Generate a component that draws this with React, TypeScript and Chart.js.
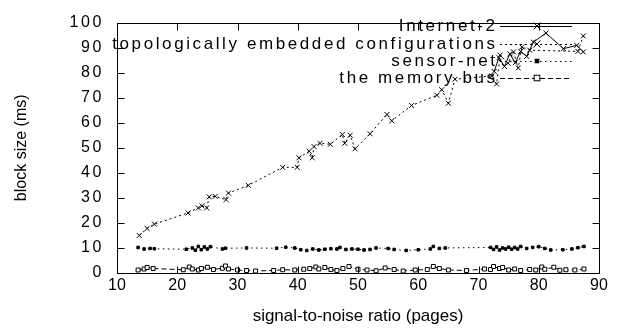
import React, { useEffect, useRef } from "react";
import { Chart, registerables } from "chart.js";

Chart.register(...registerables);

const X_TICKS = [10, 20, 30, 40, 50, 60, 70, 80, 90];
const Y_TICKS = [0, 10, 20, 30, 40, 50, 60, 70, 80, 90, 100];

const SERIES_NAMES = [
  "Internet-2",
  "topologically embedded configurations",
  "sensor-net",
  "the memory bus",
];

const INTERNET2_X = [72.6, 73.4, 74.3, 75.2, 76.1, 77.0, 78.0, 79.1, 81.2, 84.1, 86.3, 87.4];
const INTERNET2_Y = [80.5, 86.0, 82.5, 87.5, 84.0, 88.5, 86.5, 92.2, 95.8, 89.6, 90.9, 88.3];

const TOPO_X = [13.7, 15.0, 16.2, 21.8, 23.5, 24.1, 24.9, 25.3, 26.3, 28.1, 28.5, 31.8, 37.5, 39.9, 40.2, 41.9, 42.4, 42.7, 43.7, 45.4, 47.4, 47.8, 48.7, 49.5, 52.0, 54.8, 55.6, 58.9, 63.1, 63.9, 65.0, 66.1, 72.2, 73.0, 73.6, 74.9, 75.8, 76.6, 77.2, 78.5, 86.5, 87.4];
const TOPO_Y = [15.0, 17.8, 19.5, 24.0, 26.0, 26.8, 26.0, 30.4, 30.6, 29.3, 31.9, 35.0, 42.2, 42.2, 46.0, 48.6, 46.0, 50.5, 51.8, 51.4, 55.3, 51.8, 55.0, 49.6, 55.6, 63.3, 60.8, 66.9, 71.0, 73.2, 67.8, 77.4, 78.7, 75.5, 87.0, 83.8, 88.3, 81.9, 90.3, 89.0, 88.5, 94.7];

const SENSOR_X = [13.5, 14.5, 15.5, 16.2, 21.5, 22.5, 23.0, 23.5, 24.0, 24.5, 25.0, 25.5, 27.5, 28.0, 31.5, 36.5, 38.0, 39.5, 40.5, 41.5, 42.5, 43.5, 44.5, 45.5, 46.5, 47.0, 48.0, 49.0, 50.0, 51.0, 52.0, 53.0, 55.0, 56.0, 58.0, 60.0, 62.0, 62.5, 63.5, 64.5, 72.0, 72.5, 73.0, 73.5, 74.0, 74.5, 75.0, 75.5, 76.0, 76.5, 77.0, 78.0, 79.0, 80.0, 81.0, 82.0, 84.0, 85.5, 86.5, 87.5];
const SENSOR_Y = [10.2, 9.6, 9.8, 9.7, 9.5, 10.0, 9.1, 10.6, 9.3, 10.4, 9.6, 10.5, 9.6, 9.9, 10.0, 9.9, 10.3, 10.0, 9.3, 9.0, 9.6, 9.2, 9.5, 9.7, 9.6, 10.2, 9.4, 9.6, 9.5, 9.2, 9.4, 10.0, 9.8, 9.4, 9.0, 9.3, 9.6, 10.6, 9.8, 10.0, 10.2, 9.4, 10.4, 9.2, 10.0, 9.6, 10.3, 9.5, 10.2, 9.6, 10.6, 9.8, 10.2, 10.5, 9.8, 9.2, 9.3, 9.6, 10.1, 10.6];

const MEMBUS_X = [13.5, 14.5, 15.0, 16.0, 21.0, 22.0, 22.5, 23.5, 24.0, 25.0, 26.0, 27.5, 28.0, 28.5, 30.0, 31.5, 33.0, 36.0, 37.5, 39.5, 41.0, 42.0, 43.0, 43.5, 44.5, 45.5, 46.5, 47.5, 48.5, 50.0, 51.5, 53.0, 54.5, 56.0, 57.5, 59.5, 61.5, 62.5, 63.5, 65.0, 68.0, 71.0, 72.0, 72.5, 73.5, 74.0, 75.0, 76.0, 77.0, 78.5, 79.5, 80.5, 81.0, 82.5, 83.5, 84.5, 86.0, 87.5];
const MEMBUS_Y = [1.2, 1.6, 2.2, 1.8, 1.3, 2.4, 1.6, 1.2, 1.8, 2.3, 1.4, 1.9, 2.8, 1.6, 1.2, 1.0, 0.8, 1.0, 1.3, 1.2, 1.5, 1.8, 2.4, 1.6, 2.2, 1.4, 1.0, 1.8, 2.6, 1.5, 1.2, 0.9, 2.0, 1.4, 0.8, 1.2, 1.4, 2.6, 1.8, 1.2, 1.0, 1.6, 1.4, 2.6, 1.8, 2.2, 1.2, 1.6, 1.0, 1.4, 1.2, 2.4, 1.5, 2.3, 1.1, 1.3, 1.2, 1.6];

const FONT = "'Liberation Sans', Arial, Helvetica, sans-serif";

function pts(xs: number[], ys: number[]) {
  return xs.map((x, i) => ({ x, y: ys[i] }));
}

const STYLES = [
  { dash: [] as number[], pointStyle: "crossRot", radius: 3.5, fill: "rgba(0,0,0,0)" },
  { dash: [2, 3], pointStyle: "crossRot", radius: 3.5, fill: "rgba(0,0,0,0)" },
  { dash: [1.5, 3.5], pointStyle: "rect", radius: 1.8, fill: "#000" },
  { dash: [5, 3], pointStyle: "rect", radius: 2.8, fill: "#fff" },
];

const framePlugin = {
  id: "gnuframe",
  beforeDraw(chart: any) {
    chart.ctx.letterSpacing = "0px";
    const xs = chart.scales.x;
    const ys = chart.scales.y;
    if (xs && !xs.__wrapped) {
      const orig = xs.draw.bind(xs);
      xs.draw = (a: any) => {
        const c = chart.ctx;
        const prev = c.letterSpacing;
        c.letterSpacing = "2.6px";
        orig(a);
        c.letterSpacing = prev;
      };
      xs.__wrapped = true;
    }
    if (ys && !ys.__wrapped) {
      const origL = ys.drawLabels.bind(ys);
      ys.drawLabels = (a: any) => {
        const c = chart.ctx;
        const prev = c.letterSpacing;
        c.letterSpacing = "2.6px";
        origL(a);
        c.letterSpacing = prev;
      };
      ys.__wrapped = true;
    }
  },
  afterDraw(chart: any) {
    const { ctx, chartArea } = chart;
    const xs = chart.scales.x;
    const ys = chart.scales.y;
    const L = Math.round(chartArea.left) + 0.5;
    const R = Math.round(chartArea.right) + 0.5;
    const T = Math.round(chartArea.top) + 0.5;
    const B = Math.round(chartArea.bottom) + 0.5;
    ctx.save();
    ctx.strokeStyle = "#000";
    ctx.lineWidth = 1;
    ctx.setLineDash([]);
    ctx.strokeRect(L, T, R - L, B - T);
    const tl = 7;
    ctx.beginPath();
    X_TICKS.forEach((v) => {
      const px = Math.round(xs.getPixelForValue(v)) + 0.5;
      ctx.moveTo(px, B);
      ctx.lineTo(px, B - tl);
      ctx.moveTo(px, T);
      ctx.lineTo(px, T + tl);
    });
    Y_TICKS.forEach((v) => {
      const py = Math.round(ys.getPixelForValue(v)) + 0.5;
      ctx.moveTo(L, py);
      ctx.lineTo(L + tl, py);
      ctx.moveTo(R, py);
      ctx.lineTo(R - tl, py);
    });
    ctx.stroke();

    // legend (gnuplot style: right-aligned text, sample to its right)
    const rowsY = [26, 44, 61, 78];
    const spacing = 2.6;
    ctx.font = `17px ${FONT}`;
    ctx.fillStyle = "#000";
    ctx.textAlign = "right";
    ctx.textBaseline = "middle";
    (ctx as any).letterSpacing = `${spacing}px`;
    SERIES_NAMES.forEach((name, i) => {
      const y = rowsY[i];
      ctx.fillText(name, 495 + spacing, y);
      const st = STYLES[i];
      ctx.setLineDash(st.dash);
      ctx.beginPath();
      ctx.moveTo(500, y + 0.5);
      ctx.lineTo(572, y + 0.5);
      ctx.stroke();
      ctx.setLineDash([]);
      const cx = 537;
      const r = st.radius;
      ctx.beginPath();
      if (st.pointStyle === "crossRot") {
        ctx.moveTo(cx - r, y - r);
        ctx.lineTo(cx + r, y + r);
        ctx.moveTo(cx - r, y + r);
        ctx.lineTo(cx + r, y - r);
        ctx.stroke();
      } else {
        ctx.fillStyle = st.fill;
        ctx.fillRect(cx - r, y - r, 2 * r, 2 * r);
        ctx.strokeRect(cx - r, y - r, 2 * r, 2 * r);
        ctx.fillStyle = "#000";
      }
    });
    ctx.restore();
  },
};

export default function App() {
  const ref = useRef<HTMLCanvasElement | null>(null);

  useEffect(() => {
    if (!ref.current) return;
    const seriesData = [
      pts(INTERNET2_X, INTERNET2_Y),
      pts(TOPO_X, TOPO_Y),
      pts(SENSOR_X, SENSOR_Y),
      pts(MEMBUS_X, MEMBUS_Y),
    ];
    const chart = new Chart(ref.current, {
      type: "scatter",
      data: {
        datasets: SERIES_NAMES.map((name, i) => ({
          label: name,
          data: seriesData[i],
          showLine: true,
          borderColor: "#000",
          borderWidth: 1,
          borderDash: STYLES[i].dash,
          pointStyle: STYLES[i].pointStyle as any,
          pointRadius: STYLES[i].radius,
          pointBorderColor: "#000",
          pointBackgroundColor: STYLES[i].fill,
          pointBorderWidth: 1,
          tension: 0,
        })),
      },
      options: {
        animation: false,
        responsive: false,
        devicePixelRatio: 1,
        layout: { padding: { top: 13, right: 27, left: 0, bottom: 0 } },
        plugins: {
          legend: { display: false },
          tooltip: { enabled: false },
        },
        scales: {
          x: {
            type: "linear",
            min: 10,
            max: 90,
            afterFit: (s: any) => {
              s.height = 56;
            },
            afterBuildTicks: (s: any) => {
              s.ticks = X_TICKS.map((v) => ({ value: v }));
            },
            grid: { display: false, drawTicks: false },
            border: { display: false },
            ticks: {
              color: "#000",
              padding: 3,
              maxRotation: 0,
              font: { family: FONT, size: 16 },
            },
            title: {
              display: true,
              text: "signal-to-noise ratio (pages)",
              color: "#000",
              font: { family: FONT, size: 17 },
              padding: { top: 0, bottom: 2 },
            },
          },
          y: {
            type: "linear",
            min: 0,
            max: 100,
            afterFit: (s: any) => {
              s.width = 117;
            },
            afterBuildTicks: (s: any) => {
              s.ticks = Y_TICKS.map((v) => ({ value: v }));
            },
            grid: { display: false, drawTicks: false },
            border: { display: false },
            ticks: {
              color: "#000",
              padding: 13,
              font: { family: FONT, size: 16 },
            },
            title: {
              display: true,
              text: "block size (ms)",
              color: "#000",
              font: { family: FONT, size: 16 },
              padding: { top: 12, bottom: 0 },
            },
          },
        },
      },
      plugins: [framePlugin],
    });
    return () => chart.destroy();
  }, []);

  return (
    <div style={{ position: "fixed", left: 0, top: 0, width: 626, height: 329, background: "#fff" }}>
      <canvas ref={ref} width={626} height={329} style={{ width: 626, height: 329, display: "block" }} />
    </div>
  );
}
